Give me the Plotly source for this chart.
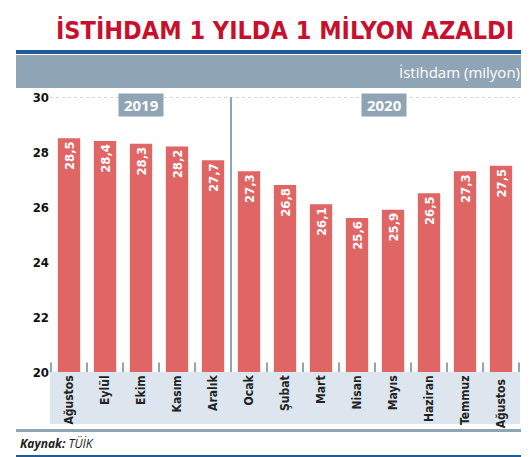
import plotly.graph_objects as go

months = ["Ağustos", "Eylül", "Ekim", "Kasım", "Aralık", "Ocak", "Şubat", "Mart",
          "Nisan", "Mayıs", "Haziran", "Temmuz", "Ağustos "]
values = [28.5, 28.4, 28.3, 28.2, 27.7, 27.3, 26.8, 26.1, 25.6, 25.9, 26.5, 27.3, 27.5]
value_labels = ["28,5", "28,4", "28,3", "28,2", "27,7", "27,3", "26,8", "26,1",
                "25,6", "25,9", "26,5", "27,3", "27,5"]
y_ticks = [20, 22, 24, 26, 28, 30]

W, H = 529, 457
L, R, T, B = 42, 512, 89, 364
def py(p):  # pixel y -> paper y (relative to plot area)
    return (B - p) / (B - T)
def px(p):
    return (p - L) / (R - L)

fig = go.Figure(go.Bar(
    x=months, y=values, text=value_labels, textposition="inside",
    insidetextanchor="end", textangle=-90,
    textfont=dict(color="white", size=13, family="DejaVu Sans Condensed", weight="bold"),
    marker=dict(color="#e06565", line=dict(width=0)), width=0.62,
))

def band(y0, y1, color, x0=8, x1=516):
    return dict(type="rect", xref="paper", yref="paper", x0=px(x0), x1=px(x1),
                y0=py(y1), y1=py(y0), fillcolor=color, line_width=0, layer="below")

shapes = [
    band(42, 46, "#1d5c94"),
    band(47, 80, "#8fa4b4"),
    band(364, 416, "#dde6ef", 42, 512),
    band(421, 424, "#8fa4b4"),
    band(447, 450, "#1d5c94"),
    dict(type="line", xref="paper", yref="y", x0=px(42), x1=px(512), y0=30, y1=30,
         line=dict(color="#b0b0b0", width=1, dash="dot"), layer="below"),
    dict(type="line", xref="x", yref="y", x0=4.5, x1=4.5, y0=20, y1=30,
         line=dict(color="#8fa4b4", width=2)),
]
for i in range(len(months) + 1):
    shapes.append(dict(type="line", xref="x", yref="y", x0=i - 0.5, x1=i - 0.5, y0=20, y1=20.35,
                       line=dict(color="#8fa4b4", width=2)))

annotations = [
    dict(text="<b>İSTİHDAM 1 YILDA 1 MİLYON AZALDI</b>", x=0.5, y=py(22), xref="paper", yref="paper",
         showarrow=False, font=dict(family="DejaVu Sans Condensed", size=25, color="#c8102e"),
         yanchor="middle"),
    dict(text="İstihdam (milyon)", x=px(514), y=py(64), xref="paper", yref="paper",
         xanchor="right", yanchor="middle", showarrow=False,
         font=dict(family="Open Sans", size=15, color="white")),
    dict(text="<i><b>Kaynak:</b> TÜİK</i>", x=px(10), y=py(435), xref="paper", yref="paper",
         xanchor="left", yanchor="middle", showarrow=False,
         font=dict(family="Open Sans", size=12, color="#222")),
    dict(text="<b> 2019 </b>", x=2, y=29.7, xref="x", yref="y", showarrow=False,
         bgcolor="#8fa4b4", borderpad=1, font=dict(family="Open Sans", size=15, color="white")),
    dict(text="<b> 2020 </b>", x=8.75, y=29.7, xref="x", yref="y", showarrow=False,
         bgcolor="#8fa4b4", borderpad=1, font=dict(family="Open Sans", size=15, color="white")),
]

fig.update_layout(
    width=W, height=H, margin=dict(l=L, r=W - R, t=T, b=H - B),
    paper_bgcolor="white", plot_bgcolor="rgba(0,0,0,0)", showlegend=False,
    shapes=shapes, annotations=annotations, bargap=0.38,
    xaxis=dict(tickangle=-90, showgrid=False, showline=False, ticks="",
               tickfont=dict(family="DejaVu Sans Condensed", size=12, color="#222", weight="bold")),
    yaxis=dict(range=[20, 30], tickvals=y_ticks, showgrid=False, zeroline=False,
               ticks="", tickfont=dict(family="DejaVu Sans Condensed", size=13, color="#111",
                                       weight="bold")),
)
fig.write_html("out.html")
